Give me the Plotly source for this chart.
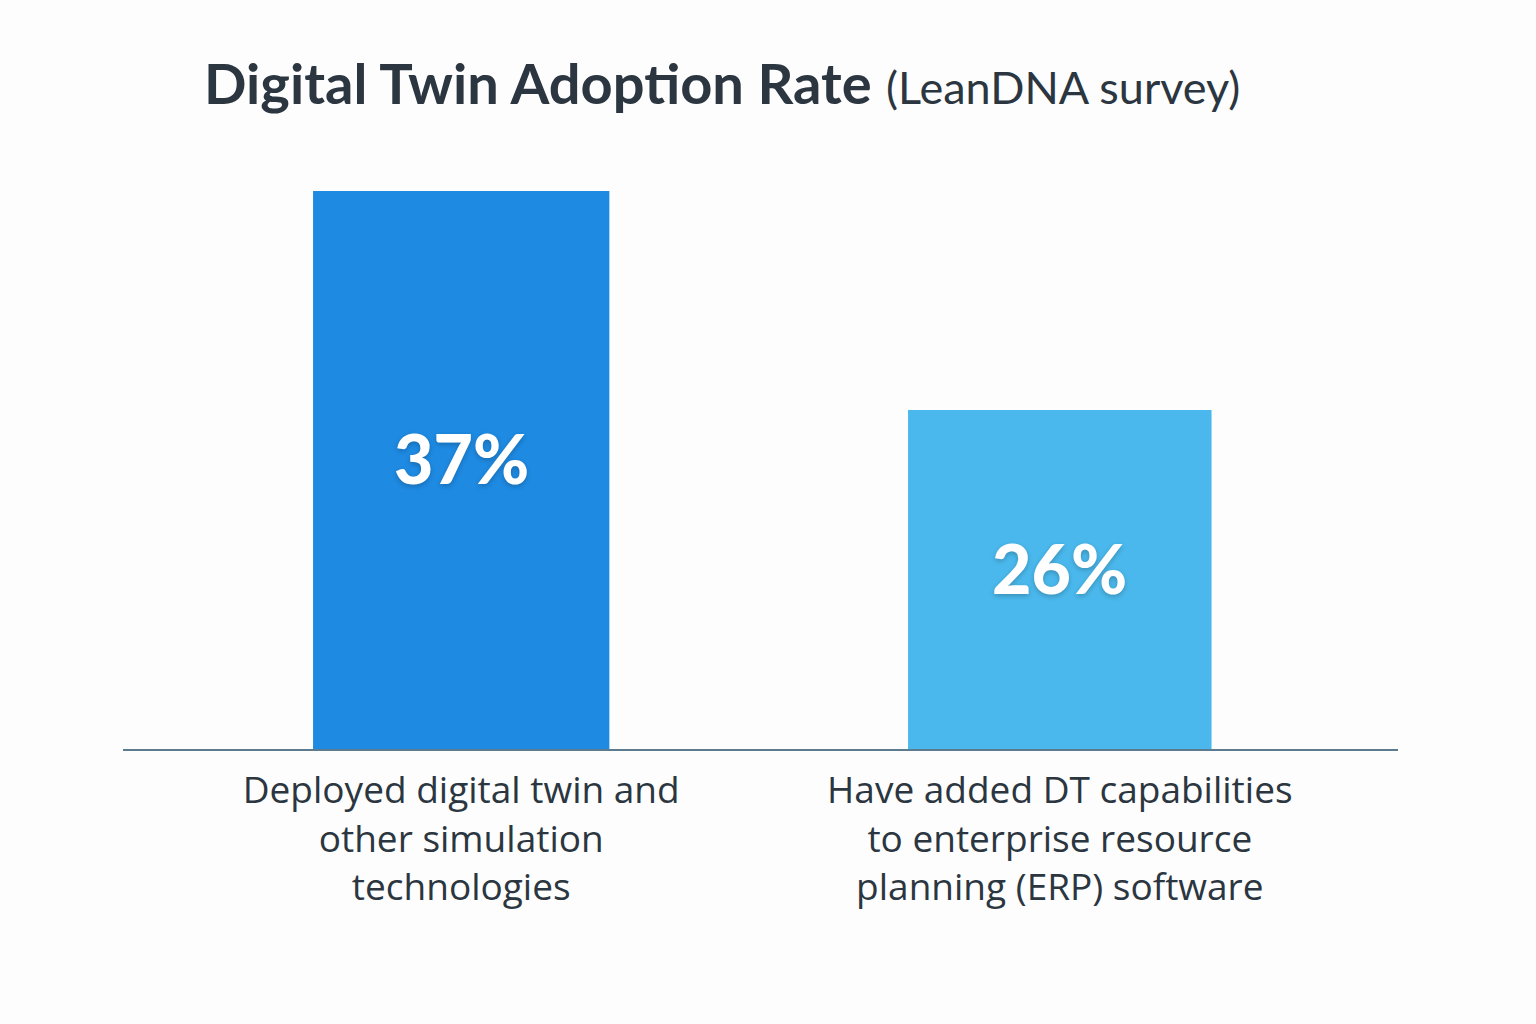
import plotly.graph_objects as go

categories = [
    "Deployed digital twin and<br>other simulation<br>technologies",
    "Have added DT capabilities<br>to enterprise resource<br>planning (ERP) software",
]
values = [37, 26]
labels = ["37%", "26%"]
bar_colors = ["#1e8ae2", "#4ab8ec"]

y_min, y_max = 8.97, 38.05

fig = go.Figure()
fig.add_trace(go.Bar(
    x=[0, 1],
    y=values,
    width=[0.495, 0.507],
    marker=dict(color=bar_colors, line=dict(width=0)),
    hoverinfo="skip",
))

for i, (v, lab) in enumerate(zip(values, labels)):
    fig.add_annotation(
        x=i, y=(v + y_min) / 2, xref="x", yref="y",
        text=lab, showarrow=False, yshift=12,
        font=dict(family="Lato", size=68, color="white", weight=900,
                  shadow="0px 2px 5px rgba(0,0,0,0.22)"),
    )

fig.update_layout(
    width=1536, height=1024,
    paper_bgcolor="#fdfdfd", plot_bgcolor="rgba(0,0,0,0)",
    margin=dict(l=123, r=138, t=170, b=275),
    showlegend=False,
    title=dict(
        text="<b>Digital Twin Adoption Rate</b> <span style='font-size:45px'>(LeanDNA survey)</span>",
        x=204/1536, xanchor="left", xref="container",
        y=1 - 84/1024, yanchor="middle", yref="container",
        font=dict(family="Lato", size=56, color="#2b3640"),
    ),
    xaxis=dict(
        range=[-0.565, 1.565],
        tickmode="array", tickvals=[0, 1], ticktext=categories,
        showline=True, linecolor="#5d7b8f", linewidth=2,
        showgrid=False, zeroline=False, ticks="",
        tickfont=dict(family="Open Sans", size=37, color="#2b3640"),
        ticklabelstandoff=8,
    ),
    yaxis=dict(
        range=[y_min, y_max],
        visible=False, showgrid=False, zeroline=False,
    ),
)

fig.write_html(
    "out.html",
    config={"displayModeBar": False},
    post_script="document.body.style.margin='0';document.body.style.background='#fdfdfd';",
)
